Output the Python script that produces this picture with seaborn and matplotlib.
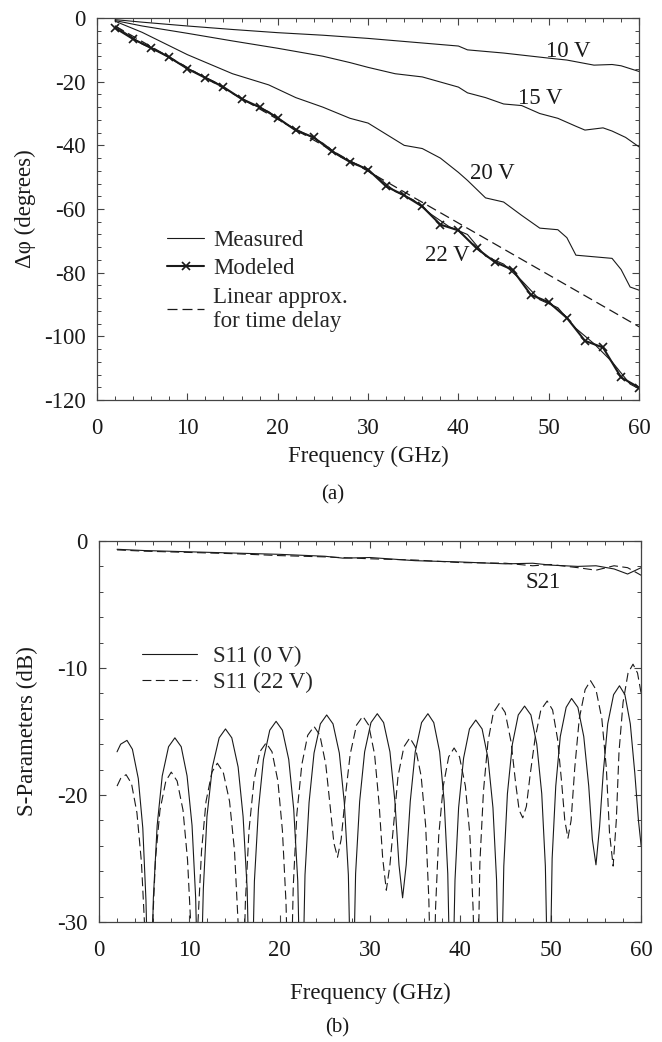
import matplotlib
matplotlib.use("Agg")
import matplotlib.pyplot as plt
from matplotlib.ticker import MultipleLocator
import seaborn as sns
import pandas as pd

# ---- panel (a): differential phase shift ----
freq_10v = [2, 5, 10, 15, 20, 25, 30, 35, 40, 41, 45, 50, 52, 55, 57, 58, 60]
phase_10v = [-0.5, -1.3, -2.5, -3.6, -4.6, -5.4, -6.4, -7.6, -8.8, -10.0, -11.0,
             -12.6, -13.2, -14.8, -14.6, -15.0, -16.8]

freq_15v = [2, 5, 10, 15, 20, 25, 28, 30, 33, 36, 40, 41, 43, 45, 47, 49, 51,
            53, 54, 56, 57, 58.5, 60]
phase_15v = [-0.8, -2.5, -4.8, -7.2, -9.5, -12.0, -14.0, -15.5, -17.5, -18.5,
             -21.7, -23.5, -25.0, -27.0, -27.5, -30.0, -31.5, -34.0, -35.2,
             -34.5, -35.5, -37.5, -40.5]

freq_20v = [2, 5, 10, 15, 19, 22, 25, 28, 30, 32, 34, 36, 38, 40, 41, 43, 45,
            47, 49, 51, 52, 53, 55, 57, 58, 59, 60]
phase_20v = [-1.0, -4.5, -11.5, -17.5, -21.0, -25.0, -28.0, -31.5, -33.0, -36.5,
             -40.0, -41.0, -44.0, -48.5, -51.0, -56.5, -57.8, -62.0, -66.0,
             -66.5, -69.0, -74.5, -75.0, -75.5, -79.0, -84.5, -85.5]

freq_22v = [2, 3, 5, 7, 9, 11, 13, 15, 17, 19, 21, 23, 25, 27, 29, 31, 33, 35,
            37, 39, 41, 43, 45, 47, 49, 51, 53, 55, 57, 59, 60]
phase_22v = [-2.5, -4.4, -8.2, -10.8, -14.2, -17.3, -20.0, -23.6, -26.8, -29.4,
             -33.4, -36.3, -39.3, -43.7, -46.2, -49.8, -54.5, -57.1, -61.7,
             -65.6, -68.0, -74.8, -77.3, -82.5, -88.5, -91.0, -97.5, -102.3,
             -108.0, -115.0, -116.5]

freq_model = [2, 4, 6, 8, 10, 12, 14, 16, 18, 20, 22, 24, 26, 28, 30, 32, 34,
              36, 38, 40, 42, 44, 46, 48, 50, 52, 54, 56, 58, 60]
phase_model = [-3.1, -6.6, -9.4, -12.3, -15.9, -18.8, -21.7, -25.4, -28.0,
               -31.4, -35.3, -37.5, -41.9, -45.2, -47.6, -52.9, -55.7, -59.2,
               -64.9, -66.7, -72.3, -76.6, -79.1, -86.9, -89.3, -94.2, -101.4,
               -103.5, -112.9, -116.1]

freq_linear = [2, 60]
phase_linear = [-2.5, -97.0]

# ---- panel (b): S-parameters ----
freq_s21_0v = [2, 5, 10, 15, 20, 25, 27, 30, 35, 40, 45, 48, 50, 53, 55, 57, 58.5, 60]
s21_0v = [-0.65, -0.75, -0.85, -0.95, -1.05, -1.2, -1.35, -1.3, -1.55, -1.65,
          -1.8, -1.75, -1.9, -2.0, -1.95, -2.2, -2.6, -2.1]
freq_s21_22v = [2, 5, 10, 15, 20, 25, 30, 35, 40, 45, 48, 50, 53, 55, 57, 58.5, 60]
s21_22v = [-0.7, -0.8, -0.9, -1.0, -1.15, -1.25, -1.4, -1.5, -1.7, -1.75, -1.95,
           -1.85, -2.1, -2.3, -1.95, -2.1, -2.7]

freq_s11_0v = [2.0, 2.4, 3.1, 3.7, 4.35, 4.85, 5.2, 5.6,
               6.02, 6.44, 7.0, 7.7, 8.4, 9.1, 9.75, 10.3, 10.7, 11.1,
               11.55, 11.95, 12.55, 13.3, 14.0, 14.7, 15.4, 15.95, 16.4, 16.8,
               17.2, 17.65, 18.2, 18.9, 19.6, 20.3, 21.0, 21.55, 22.0, 22.4,
               22.8, 23.25, 23.8, 24.5, 25.2, 25.9, 26.6, 27.15, 27.6, 28.0,
               28.4, 28.85, 29.4, 30.1, 30.8, 31.5, 32.2, 32.75, 33.2, 33.6,
               34.0, 34.45, 35.0, 35.7, 36.4, 37.05, 37.7, 38.2, 38.6, 39.0,
               39.4, 39.8, 40.35, 41.0, 41.7, 42.4, 43.05, 43.6, 44.0, 44.4,
               44.8, 45.2, 45.75, 46.4, 47.1, 47.8, 48.45, 49.0, 49.4, 49.8,
               50.15, 50.55, 51.05, 51.7, 52.3, 53.0, 53.65, 54.2, 54.6, 55.0,
               55.4, 55.8, 56.3, 56.95, 57.6, 58.2, 58.8, 59.3, 59.7, 60.0]
s11_0v = [-16.6, -16.0, -15.7, -16.4, -18.7, -22.6, -28.3, -40,
          -28.1, -22.4, -18.5, -16.2, -15.5, -16.2, -18.5, -22.4, -28.1, -40,
          -27.4, -21.7, -17.8, -15.5, -14.8, -15.5, -17.8, -21.7, -27.4, -40,
          -26.8, -21.1, -17.2, -14.9, -14.2, -14.9, -17.2, -21.1, -26.8, -40,
          -26.3, -20.6, -16.7, -14.4, -13.7, -14.4, -16.7, -20.6, -26.3, -40,
          -26.2, -20.5, -16.6, -14.3, -13.6, -14.3, -16.6, -20.5, -25.5, -28.1,
          -25.5, -20.5, -16.6, -14.3, -13.6, -14.3, -16.6, -20.5, -26.2, -40,
          -26.7, -21.0, -17.1, -14.8, -14.1, -14.8, -17.1, -21.0, -26.7, -40,
          -25.6, -19.9, -16.0, -13.7, -13.0, -13.7, -16.0, -19.9, -25.6, -40,
          -25.0, -19.3, -15.4, -13.1, -12.4, -13.1, -15.4, -19.3, -23.5, -25.5,
          -22.5, -18.3, -14.4, -12.1, -11.4, -12.1, -14.4, -18.3, -22.0, -24.0]

freq_s11_22v = [2.0, 2.4, 3.0, 3.6, 4.2, 4.7, 5.1, 5.5,
                5.9, 6.25, 6.75, 7.4, 8.0, 8.65, 9.3, 9.8, 10.2, 10.6,
                10.95, 11.35, 11.85, 12.5, 13.1, 13.75, 14.45, 15.0, 15.4, 15.8,
                16.2, 16.6, 17.15, 17.8, 18.5, 19.15, 19.8, 20.3, 20.7, 21.1,
                21.5, 21.9, 22.45, 23.1, 23.8, 24.45, 25.1, 25.6, 26.0, 26.4,
                26.8, 27.25, 27.8, 28.5, 29.2, 29.85, 30.5, 31.0, 31.4, 31.8,
                32.2, 32.6, 33.1, 33.75, 34.4, 35.0, 35.65, 36.15, 36.5, 36.9,
                37.25, 37.6, 38.1, 38.7, 39.3, 39.9, 40.55, 41.05, 41.4, 41.8,
                42.15, 42.55, 43.05, 43.65, 44.3, 44.95, 45.6, 46.1, 46.5, 46.9,
                47.3, 47.7, 48.25, 48.9, 49.6, 50.2, 50.75, 51.2, 51.55, 51.9,
                52.25, 52.65, 53.15, 53.8, 54.4, 55.0, 55.65, 56.15, 56.5, 56.9,
                57.25, 57.55, 58.0, 58.55, 59.1, 59.6, 60.0]
s11_22v = [-19.3, -18.7, -18.4, -19.1, -21.4, -25.3, -31.0, -40,
           -30.8, -25.1, -21.2, -18.9, -18.2, -18.9, -21.2, -25.1, -30.8, -40,
           -30.1, -24.4, -20.5, -18.2, -17.5, -18.2, -20.5, -24.4, -30.1, -40,
           -28.5, -22.8, -18.9, -16.6, -15.9, -16.6, -18.9, -22.8, -28.5, -40,
           -27.2, -21.5, -17.6, -15.3, -14.6, -15.3, -17.6, -21.0, -23.8, -24.9,
           -23.5, -20.2, -16.8, -14.5, -13.8, -14.5, -16.8, -20.7, -25.0, -27.5,
           -25.5, -22.4, -18.5, -16.2, -15.5, -16.2, -18.5, -22.4, -28.1, -40,
           -28.9, -23.2, -19.3, -17.0, -16.3, -17.0, -19.3, -23.2, -28.9, -40,
           -25.4, -19.7, -15.8, -13.5, -12.8, -13.5, -15.8, -19.0, -21.2, -21.8,
           -20.9, -18.5, -15.6, -13.3, -12.6, -13.3, -15.6, -19.0, -22.0, -23.4,
           -22.0, -17.9, -14.0, -11.7, -11.0, -11.7, -14.0, -17.9, -23.0, -25.6,
           -22.0, -16.6, -12.7, -10.4, -9.7, -10.4, -12.0]

sns.set_style("ticks")
plt.rcParams["font.family"] = ["Liberation Serif", "DejaVu Serif"]
plt.rcParams["axes.unicode_minus"] = False
plt.rcParams["font.size"] = 16.5

INK = "#1a1a1a"
DASH = (0, (8, 4))


def style_axes(ax, ymaj, ymin):
    ax.set_xlim(0, 60)
    ax.xaxis.set_major_locator(MultipleLocator(10))
    ax.xaxis.set_minor_locator(MultipleLocator(2))
    ax.yaxis.set_major_locator(MultipleLocator(ymaj))
    ax.yaxis.set_minor_locator(MultipleLocator(ymin))
    ax.tick_params(which="both", direction="in", top=True, right=True,
                   color="#444444", labelsize=16.5, labelcolor=INK)
    ax.tick_params(which="major", length=5, width=0.8)
    ax.tick_params(which="minor", length=3, width=0.7)
    ax.tick_params(axis="x", pad=13)
    ax.tick_params(axis="y", pad=8)
    for s in ax.spines.values():
        s.set_color("#444444")
        s.set_linewidth(0.9)


def line(ax, x, y, **kw):
    df = pd.DataFrame({"f": x, "v": y})
    sns.lineplot(data=df, x="f", y="v", ax=ax, sort=False, estimator=None,
                 color=INK, **kw)


fig = plt.figure(figsize=(6.62, 10.42), dpi=100)
ax1 = fig.add_axes([0.1465, 0.6161, 0.819, 0.3666])
ax2 = fig.add_axes([0.1495, 0.1152, 0.819, 0.3656])

# (a)
line(ax1, freq_10v, phase_10v, lw=0.8)
line(ax1, freq_15v, phase_15v, lw=0.8)
line(ax1, freq_20v, phase_20v, lw=0.8)
line(ax1, freq_22v, phase_22v, lw=0.8, label="Measured")
line(ax1, freq_model, phase_model, lw=1.5, marker="x", markersize=6,
     markeredgewidth=1.2, markeredgecolor=INK, label="Modeled")
line(ax1, freq_linear, phase_linear, lw=0.9, linestyle=DASH,
     label="Linear approx.\nfor time delay")

for txt, fx, fy in [("10 V", 52.1, -10.6), ("15 V", 49.0, -25.2),
                    ("20 V", 43.7, -48.8), ("22 V", 38.8, -74.5)]:
    ax1.text(fx, fy, txt, ha="center", va="center", fontsize=16.5, color=INK)

ax1.set_ylim(-120, 0)
style_axes(ax1, 20, 4)
ax1.set_xlabel("Frequency (GHz)", fontsize=16.5, labelpad=5, color=INK)
ax1.set_ylabel("Δφ (degrees)", fontsize=16.5, labelpad=6, color=INK)
ax1.legend(loc="upper left", bbox_to_anchor=(0.13, 0.445), frameon=False,
           borderaxespad=0, borderpad=0, handlelength=1.6, handletextpad=0.4,
           labelspacing=0.32, fontsize=16.5)

# (b)
line(ax2, freq_s21_0v, s21_0v, lw=0.8)
line(ax2, freq_s21_22v, s21_22v, lw=0.8, linestyle=DASH)
line(ax2, freq_s11_0v, s11_0v, lw=0.8, label="S11 (0 V)")
line(ax2, freq_s11_22v, s11_22v, lw=0.8, linestyle=DASH, label="S11 (22 V)")
ax2.text(49.1, -3.3, "S21", ha="center", va="center", fontsize=16.5, color=INK)

ax2.set_ylim(-30, 0)
style_axes(ax2, 10, 2)
ax2.set_xlabel("Frequency (GHz)", fontsize=16.5, labelpad=16, color=INK)
ax2.set_ylabel("S-Parameters (dB)", fontsize=16.5, labelpad=14, color=INK)
ax2.legend(loc="upper left", bbox_to_anchor=(0.08, 0.725), frameon=False,
           borderaxespad=0, borderpad=0, handlelength=2.4, handletextpad=0.7,
           labelspacing=0.2, fontsize=16.5)

fig.text(0.503, 1 - 495 / 1042, "(a)", ha="center", va="center", fontsize=15, color=INK)
fig.text(0.509, 1 - 1028 / 1042, "(b)", ha="center", va="center", fontsize=15, color=INK)

fig.savefig("out.png", dpi=100, facecolor="white")
